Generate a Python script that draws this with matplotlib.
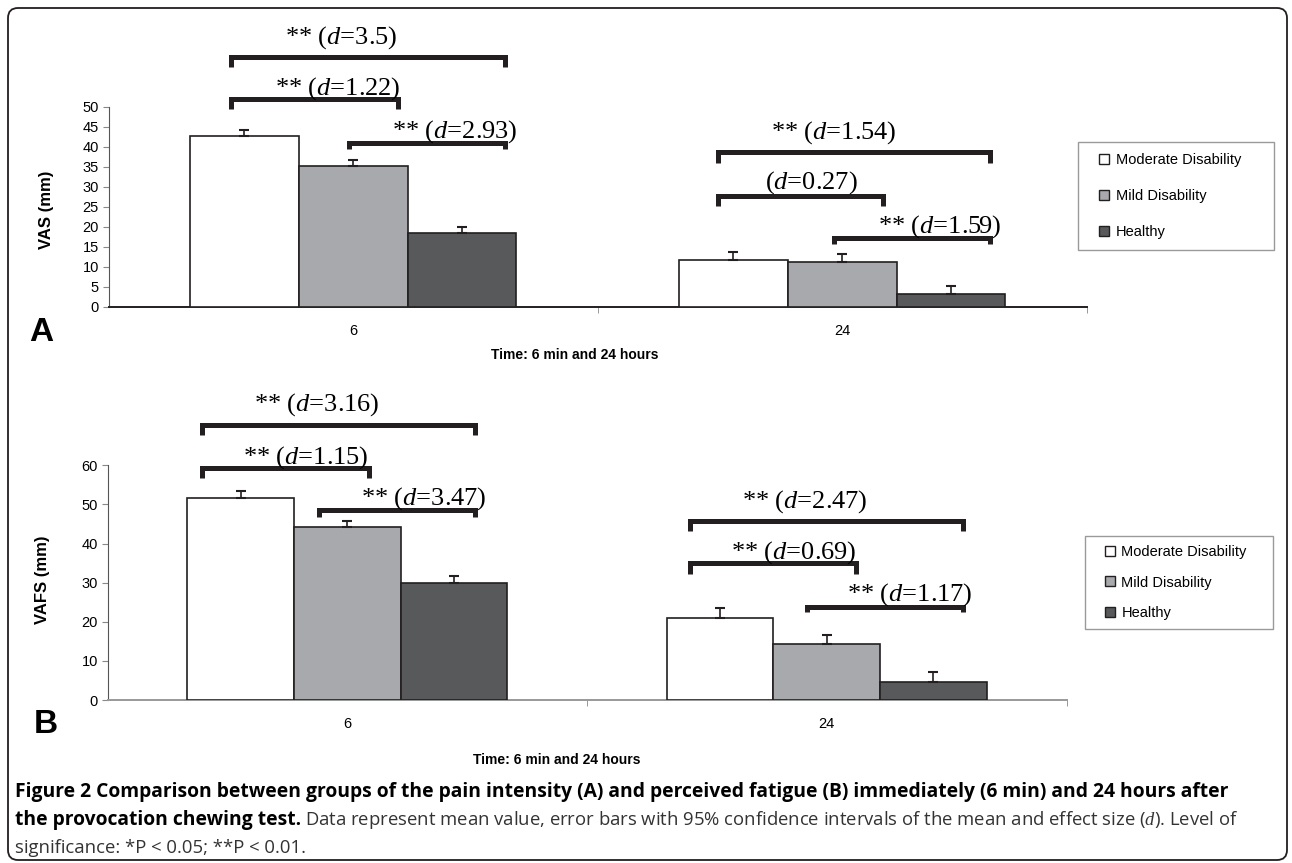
import numpy as np
import matplotlib.pyplot as plt
from matplotlib.patches import FancyBboxPatch
from matplotlib.lines import Line2D

plt.rcParams['mathtext.fontset'] = 'custom'
plt.rcParams['mathtext.rm'] = 'Liberation Serif'
plt.rcParams['mathtext.it'] = 'Liberation Serif:italic'
plt.rcParams['font.family'] = ['Liberation Sans', 'DejaVu Sans']

# data
groups = ['6', '24']
series = ['Moderate Disability', 'Mild Disability', 'Healthy']

vas_mean = [[42.7, 11.8], [35.3, 11.2], [18.4, 3.3]]
vas_err = [[1.5, 2.0], [1.5, 2.0], [1.7, 2.0]]
vafs_mean = [[51.7, 21.0], [44.2, 14.4], [29.9, 4.7]]
vafs_err = [[1.7, 2.6], [1.6, 2.3], [1.8, 2.5]]

vas_labels = ['** ($\\it{d}$=3.5)', '** ($\\it{d}$=1.22)', '** ($\\it{d}$=2.93)',
              '** ($\\it{d}$=1.54)', '($\\it{d}$=0.27)', '** ($\\it{d}$=1.59)']
vafs_labels = ['** ($\\it{d}$=3.16)', '** ($\\it{d}$=1.15)', '** ($\\it{d}$=3.47)',
               '** ($\\it{d}$=2.47)', '** ($\\it{d}$=0.69)', '** ($\\it{d}$=1.17)']

# bracket layout: x0, x1, top, leg bottom, text x, text y
vas_br = [(-0.250, 0.311, 62.5, 60.0, -0.024, 67.3),
          (-0.250, 0.092, 52.0, 49.5, -0.031, 54.5),
          (-0.008, 0.311, 41.0, 39.5, 0.207, 43.8),
          (0.745, 1.303, 38.8, 36.0, 0.982, 43.5),
          (0.745, 1.084, 27.8, 25.3, 0.937, 31.0),
          (0.984, 1.303, 17.3, 15.8, 1.199, 20.0)]
vafs_br = [(-0.303, 0.267, 70.3, 67.7, -0.064, 75.4),
           (-0.303, 0.045, 59.3, 56.7, -0.086, 62.1),
           (-0.058, 0.267, 48.6, 46.8, 0.159, 51.4),
           (0.715, 1.285, 45.8, 43.2, 0.955, 50.6),
           (0.715, 1.062, 35.0, 32.2, 0.932, 37.6),
           (0.958, 1.285, 23.8, 22.5, 1.173, 26.9)]

colors = ['white', '#a7a9ac', '#58595b']
ink = '#231f20'

W, H = 1292, 863
fig = plt.figure(figsize=(W / 100, H / 100), dpi=100)

# page frame in pixel coords
bg = fig.add_axes([0, 0, 1, 1])
bg.set_xlim(0, W)
bg.set_ylim(H, 0)
bg.axis('off')
bg.add_patch(FancyBboxPatch((8, 8), 1279, 852, boxstyle='round,pad=0,rounding_size=10',
                            fill=False, lw=1.3, ec=ink))


def panel(px, ymax, step, mean, err, labels, brs, ylabel, letter, lab_pos, leg_box, leg_space, bottom_col):
    left, right, y0, ytop = px
    ax = fig.add_axes([left / W, 1 - y0 / H, (right - left) / W, (y0 - ytop) / H])
    x = np.arange(len(groups))
    w = 0.2225
    for i in range(3):
        ax.bar(x + (i - 1) * w, mean[i], w, color=colors[i], edgecolor=ink, linewidth=1.2,
               yerr=[np.zeros(2), err[i]], capsize=3.5,
               error_kw=dict(ecolor=ink, elinewidth=1.2, capthick=1.5), zorder=3)
    ax.set_xlim(-0.5, 1.5)
    ax.set_ylim(0, ymax)
    ax.set_yticks(np.arange(0, ymax + 1, step))
    ax.set_xticks(x)
    ax.set_xticklabels(groups)
    ax.set_xticks([0.5, 1.5], minor=True)
    ax.tick_params(axis='x', which='major', length=0, pad=12, labelsize=10.5)
    ax.tick_params(axis='x', which='minor', length=4, color='#888888', direction='out')
    ax.tick_params(axis='y', length=4, color='#888888', labelsize=10.5, pad=3)
    for s in ['top', 'right']:
        ax.spines[s].set_visible(False)
    ax.spines['left'].set_color('#555555')
    ax.spines['left'].set_linewidth(0.8)
    ax.spines['bottom'].set_color(bottom_col)
    ax.spines['bottom'].set_linewidth(1.4)
    ax.set_ylabel(ylabel, fontsize=12, fontweight='bold')
    ax.yaxis.set_label_coords(*lab_pos[0])
    ax.set_xlabel('Time: 6 min and 24 hours', fontsize=10, fontweight='bold', va='center')
    ax.xaxis.set_label_coords(*lab_pos[1])

    for (x0, x1, top, leg, tx, ty), lab in zip(brs, labels):
        ax.plot([x0, x0, x1, x1], [leg, top, top, leg], color=ink, lw=3.6,
                solid_joinstyle='miter', solid_capstyle='butt', clip_on=False, zorder=4)
        ax.text(tx, ty, lab, ha='center', va='center', fontsize=19,
                family='Liberation Serif', clip_on=False, zorder=5)

    bg.text(letter[1], letter[2], letter[0], fontsize=24, fontweight='bold',
            ha='center', va='center')

    handles = [Line2D([], [], ls='none', marker='s', markersize=6.5, markerfacecolor=c,
                      markeredgecolor=ink, markeredgewidth=1.0) for c in colors]
    lx0, ly0, lx1, ly1 = leg_box
    fig.legend(handles, series, loc='upper left', mode='expand',
               bbox_to_anchor=(lx0 / W, 1 - ly1 / H, (lx1 - lx0) / W, (ly1 - ly0) / H),
               fontsize=10.5, frameon=True, fancybox=False, edgecolor='#9a9a9a',
               framealpha=1, handlelength=2.2, handletextpad=-0.3,
               labelspacing=leg_space[0], borderpad=leg_space[1], borderaxespad=0)
    return ax


axA = panel((108.7, 1086.8, 307, 107), 50, 5, vas_mean, vas_err, vas_labels, vas_br,
            'VAS (mm)', ('A', 41, 332), [(-0.056, 0.485), (0.476, -0.24)],
            (1077.5, 142, 1274, 251), (1.5, 0.75), ink)
axB = panel((107.5, 1066.5, 700, 465.3), 60, 10, vafs_mean, vafs_err, vafs_labels, vafs_br,
            'VAFS (mm)', ('B', 46, 724), [(-0.06, 0.511), (0.468, -0.256)],
            (1085, 536, 1272.5, 629), (1.15, 0.6), '#999999')

# caption
fig.canvas.draw()
rend = fig.canvas.get_renderer()


def fit(t, target):
    bb = t.get_window_extent(rend)
    t.set_fontsize(t.get_fontsize() * target / bb.width)
    return t


cap_font = ['Open Sans', 'DejaVu Sans']
l1 = bg.text(15, 792, 'Figure 2 Comparison between groups of the pain intensity (A) and perceived '
             'fatigue (B) immediately (6 min) and 24 hours after', fontsize=13, fontweight='bold',
             family=cap_font, va='center', ha='left')
fit(l1, 1201)
fs = l1.get_fontsize()
l2a = bg.text(15, 820, 'the provocation chewing test.', fontsize=fs, fontweight='bold',
              family=cap_font, va='center', ha='left')
fig.canvas.draw()
bb = l2a.get_window_extent(rend)
l2b = bg.text(bb.x1 + 4, 820, 'Data represent mean value, error bars with 95% confidence intervals '
              'of the mean and effect size ($\\it{d}$). Level of', fontsize=fs,
              family=cap_font, va='center', ha='left', color='#333333')
fit(l2b, 1241 - (bb.x1 + 4))
l3 = bg.text(15, 848, 'significance: *P < 0.05; **P < 0.01.', fontsize=l2b.get_fontsize(),
             family=cap_font, va='center', ha='left', color='#333333')

fig.savefig('out.png', dpi=100)
